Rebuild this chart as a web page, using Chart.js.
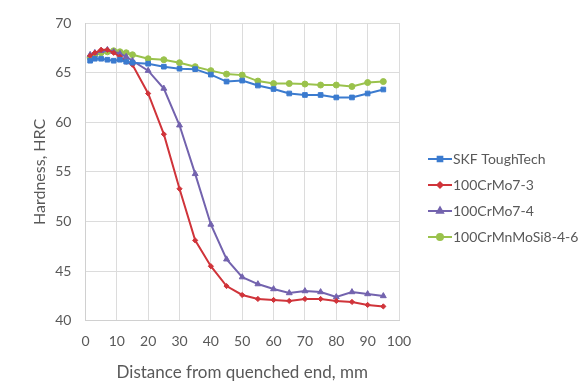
<!DOCTYPE html>
<html>
<head>
<meta charset="utf-8">
<script src="https://cdn.jsdelivr.net/npm/chart.js@4.4.1/dist/chart.umd.min.js"></script>
<style>
  html, body { margin: 0; padding: 0; background: #fff; }
  #wrap { width: 587px; height: 383px; }
</style>
</head>
<body>
<div id="wrap"><canvas id="jominy" width="587" height="383"></canvas></div>
<script>
// distance from the quenched end (mm)
const distances = [1.5, 3, 5, 7, 9, 11, 13, 15, 20, 25, 30, 35, 40, 45, 50, 55, 60, 65, 70, 75, 80, 85, 90, 95];

// hardness, HRC
const skfToughTech = [66.2, 66.4, 66.4, 66.3, 66.2, 66.3, 66.1, 66.0, 65.9, 65.6, 65.4, 65.35, 64.8, 64.1, 64.2, 63.7, 63.35, 62.9, 62.75, 62.75, 62.5, 62.5, 62.9, 63.3];
const crMo7_3 = [66.7, 67.0, 67.3, 67.3, 67.0, 66.6, 66.1, 65.8, 62.9, 58.8, 53.3, 48.1, 45.5, 43.5, 42.6, 42.2, 42.1, 42.0, 42.2, 42.2, 42.0, 41.9, 41.6, 41.45];
const crMo7_4 = [66.8, 67.0, 67.2, 67.3, 67.1, 66.9, 66.6, 66.2, 65.2, 63.4, 59.7, 54.8, 49.7, 46.2, 44.4, 43.7, 43.2, 42.8, 43.0, 42.9, 42.4, 42.9, 42.7, 42.5];
const crMnMoSi = [66.5, 66.8, 67.0, 67.1, 67.2, 67.1, 67.0, 66.8, 66.4, 66.3, 66.0, 65.6, 65.2, 64.85, 64.75, 64.15, 63.9, 63.9, 63.85, 63.75, 63.75, 63.6, 64.0, 64.1];

const seriesNames = ['SKF ToughTech', '100CrMo7-3', '100CrMo7-4', '100CrMnMoSi8-4-6'];
const seriesData = [skfToughTech, crMo7_3, crMo7_4, crMnMoSi];
const seriesColors = ['#3b7bcf', '#d0343a', '#7363ae', '#9ac24c'];
const markers = ['rect', 'rectRot', 'triangle', 'circle'];
const markerSize = [3.3, 2.6, 3.4, 3];

const textColor = '#595959';
const fontFamily = 'Lato, "Open Sans", sans-serif';

// legend drawn to the right of the plot: line + marker + name
const sideLegend = {
  id: 'sideLegend',
  afterDraw(chart) {
    const g = chart.ctx;
    const x0 = chart.chartArea.right + 29;
    const rowGap = 26;
    const y0 = 159;
    g.save();
    g.font = '14px ' + fontFamily;
    g.textBaseline = 'middle';
    chart.data.datasets.forEach((ds, i) => {
      const y = y0 + i * rowGap;
      g.strokeStyle = ds.borderColor;
      g.fillStyle = ds.borderColor;
      g.lineWidth = 2;
      g.beginPath();
      g.moveTo(x0, y);
      g.lineTo(x0 + 24, y);
      g.stroke();
      Chart.helpers.drawPoint(g, { pointStyle: ds.pointStyle, radius: ds.pointRadius, borderWidth: 1 }, x0 + 12, y);
      g.fillStyle = textColor;
      g.fillText(ds.label, x0 + 25, y);
    });
    g.restore();
  }
};

const datasets = seriesNames.map((name, i) => ({
  label: name,
  data: distances.map((d, j) => ({ x: d, y: seriesData[i][j] })),
  borderColor: seriesColors[i],
  backgroundColor: seriesColors[i],
  borderWidth: 2,
  pointStyle: markers[i],
  pointRadius: markerSize[i],
  pointBorderWidth: 1,
  tension: 0
}));

const ctx = document.getElementById('jominy').getContext('2d');
new Chart(ctx, {
  type: 'line',
  data: { datasets: datasets },
  plugins: [sideLegend],
  options: {
    responsive: false,
    animation: false,
    layout: { padding: { left: 26, right: 188, top: 23, bottom: 0 } },
    plugins: {
      legend: { display: false },
      tooltip: { enabled: false }
    },
    scales: {
      x: {
        type: 'linear',
        min: 0,
        max: 100,
        ticks: { stepSize: 10, color: textColor, font: { family: fontFamily, size: 14 }, maxRotation: 0, padding: 12 },
        grid: { color: '#dcdcdc', drawTicks: false },
        border: { color: '#d0d0d0' },
        title: { display: true, text: 'Distance from quenched end, mm', color: textColor, font: { family: fontFamily, size: 17 }, padding: { top: 1, bottom: 0 } }
      },
      y: {
        min: 40,
        max: 70,
        ticks: { stepSize: 5, color: textColor, font: { family: fontFamily, size: 14 }, padding: 14 },
        grid: { color: '#dcdcdc', drawTicks: false },
        border: { color: '#d0d0d0' },
        title: { display: true, text: 'Hardness, HRC', color: textColor, font: { family: fontFamily, size: 16 }, padding: { top: 4, bottom: -8 } }
      }
    }
  }
});
</script>
</body>
</html>
